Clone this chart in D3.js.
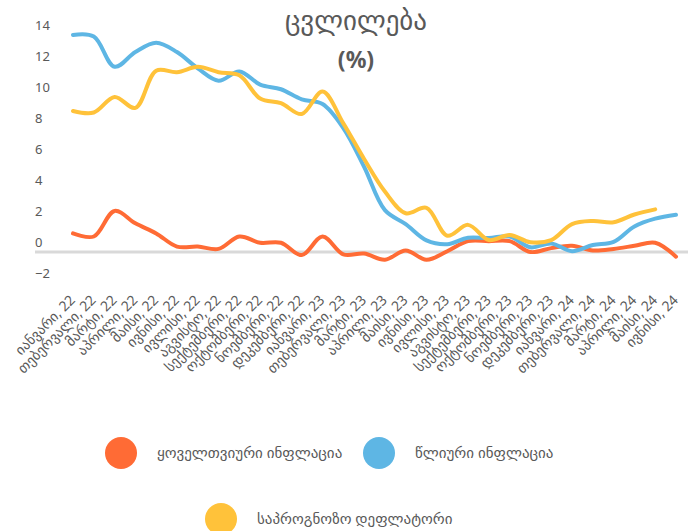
<!DOCTYPE html>
<html>
<head>
<meta charset="utf-8">
<script src="https://cdn.jsdelivr.net/npm/d3@7"></script>
<style>
  body { margin: 0; background: #fff; }
  text { font-family: "Noto Sans", "DejaVu Sans", sans-serif; fill: #595959; }
</style>
</head>
<body>
<div id="chart"></div>
<script>
// month labels, Jan 2022 .. Jun 2024
var monthNames = ['იანვარი', 'თებერვალი', 'მარტი', 'აპრილი', 'მაისი', 'ივნისი',
  'ივლისი', 'აგვისტო', 'სექტემბერი', 'ოქტომბერი', 'ნოემბერი', 'დეკემბერი'];
var labels = [];
['22', '23', '24'].forEach(function(yr) {
  monthNames.forEach(function(m) { labels.push(m + ', ' + yr); });
});
labels = labels.slice(0, 30);

var monthly = [1.2, 1.0, 2.65, 1.85, 1.2, 0.35, 0.35, 0.2, 1.0, 0.6, 0.6, -0.2,
  1.0, -0.15, -0.1, -0.5, 0.1, -0.5, 0.05, 0.7, 0.7, 0.7, 0.0, 0.25, 0.4, 0.1, 0.2, 0.4, 0.6, -0.3];
var annual = [14.0, 13.9, 11.95, 12.9, 13.5, 12.9, 11.85, 11.05, 11.65, 10.8, 10.5, 9.85,
  9.55, 8.0, 5.5, 2.7, 1.8, 0.75, 0.5, 0.92, 0.9, 1.0, 0.3, 0.55, 0.05, 0.45, 0.65, 1.65, 2.15, 2.4];
var deflator = [9.1, 9.0, 10.0, 9.3, 11.7, 11.6, 11.95, 11.6, 11.4, 9.9, 9.6, 8.9,
  10.35, 8.3, 6.0, 3.9, 2.5, 2.85, 1.05, 1.75, 0.77, 1.1, 0.63, 0.77, 1.8, 2.0, 1.92, 2.42, 2.75, null];
var yTicks = [-2, 0, 2, 4, 6, 8, 10, 12, 14];

var series = [
  { name: 'ყოველთვიური ინფლაცია', values: monthly, color: '#ff6b35' },
  { name: 'წლიური ინფლაცია', values: annual, color: '#5eb6e4' },
  { name: 'საპროგნოზო დეფლატორი', values: deflator, color: '#ffc23a' }
];

var w = 695, h = 531;
var svg = d3.select('#chart').append('svg')
  .attr('width', w)
  .attr('height', h);

var x = d3.scalePoint().domain(labels).range([73, 676]);
var y = d3.scaleLinear().domain([-2, 14]).range([283, 35]);

// title
svg.append('text')
  .attr('x', 356).attr('y', 30)
  .attr('text-anchor', 'middle')
  .style('font-size', '27px')
  .text('ცვლილება');
svg.append('text')
  .attr('x', 356).attr('y', 68)
  .attr('text-anchor', 'middle')
  .style('font-size', '23px')
  .style('font-weight', 'bold')
  .text('(%)');

// zero line
svg.append('line')
  .attr('x1', 35).attr('x2', 688)
  .attr('y1', y(0)).attr('y2', y(0))
  .attr('stroke', '#d9d9d9')
  .attr('stroke-width', 3);

// y axis labels (sit a bit above their value, like the original)
var yAxis = svg.append('g')
  .attr('transform', 'translate(35,0)')
  .call(d3.axisRight(y).tickValues(yTicks).tickSize(0).tickPadding(0));
yAxis.select('.domain').remove();
yAxis.selectAll('text')
  .attr('dy', '-0.42em')
  .style('font-size', '13px')
  .style('font-family', '"Noto Sans", sans-serif')
  .attr('fill', '#595959');

// x labels
svg.append('g').selectAll('text')
  .data(labels)
  .enter()
  .append('text')
  .attr('transform', function(d) { return 'translate(' + (x(d) + 3) + ',301) rotate(-45)'; })
  .attr('text-anchor', 'end')
  .style('font-size', '14px')
  .text(function(d) { return d; });

// lines
var line = d3.line()
  .defined(function(d) { return d != null; })
  .x(function(d, i) { return x(labels[i]); })
  .y(function(d) { return y(d); })
  .curve(d3.curveCatmullRom.alpha(0.5));

svg.selectAll('path.series')
  .data(series)
  .enter()
  .append('path')
  .attr('class', 'series')
  .attr('fill', 'none')
  .attr('stroke', function(d) { return d.color; })
  .attr('stroke-width', 4)
  .attr('stroke-linejoin', 'round')
  .attr('stroke-linecap', 'round')
  .attr('d', function(d) { return line(d.values); });

// legend
var legendPos = [[121, 453], [379, 453], [221, 519]];
var legend = svg.selectAll('g.legend')
  .data(series)
  .enter()
  .append('g')
  .attr('class', 'legend')
  .attr('transform', function(d, i) { return 'translate(' + legendPos[i][0] + ',' + legendPos[i][1] + ')'; });
legend.append('circle')
  .attr('r', 16)
  .attr('fill', function(d) { return d.color; });
legend.append('text')
  .attr('x', 36)
  .attr('dy', '0.35em')
  .style('font-size', '15px')
  .text(function(d) { return d.name; });
</script>
</body>
</html>
